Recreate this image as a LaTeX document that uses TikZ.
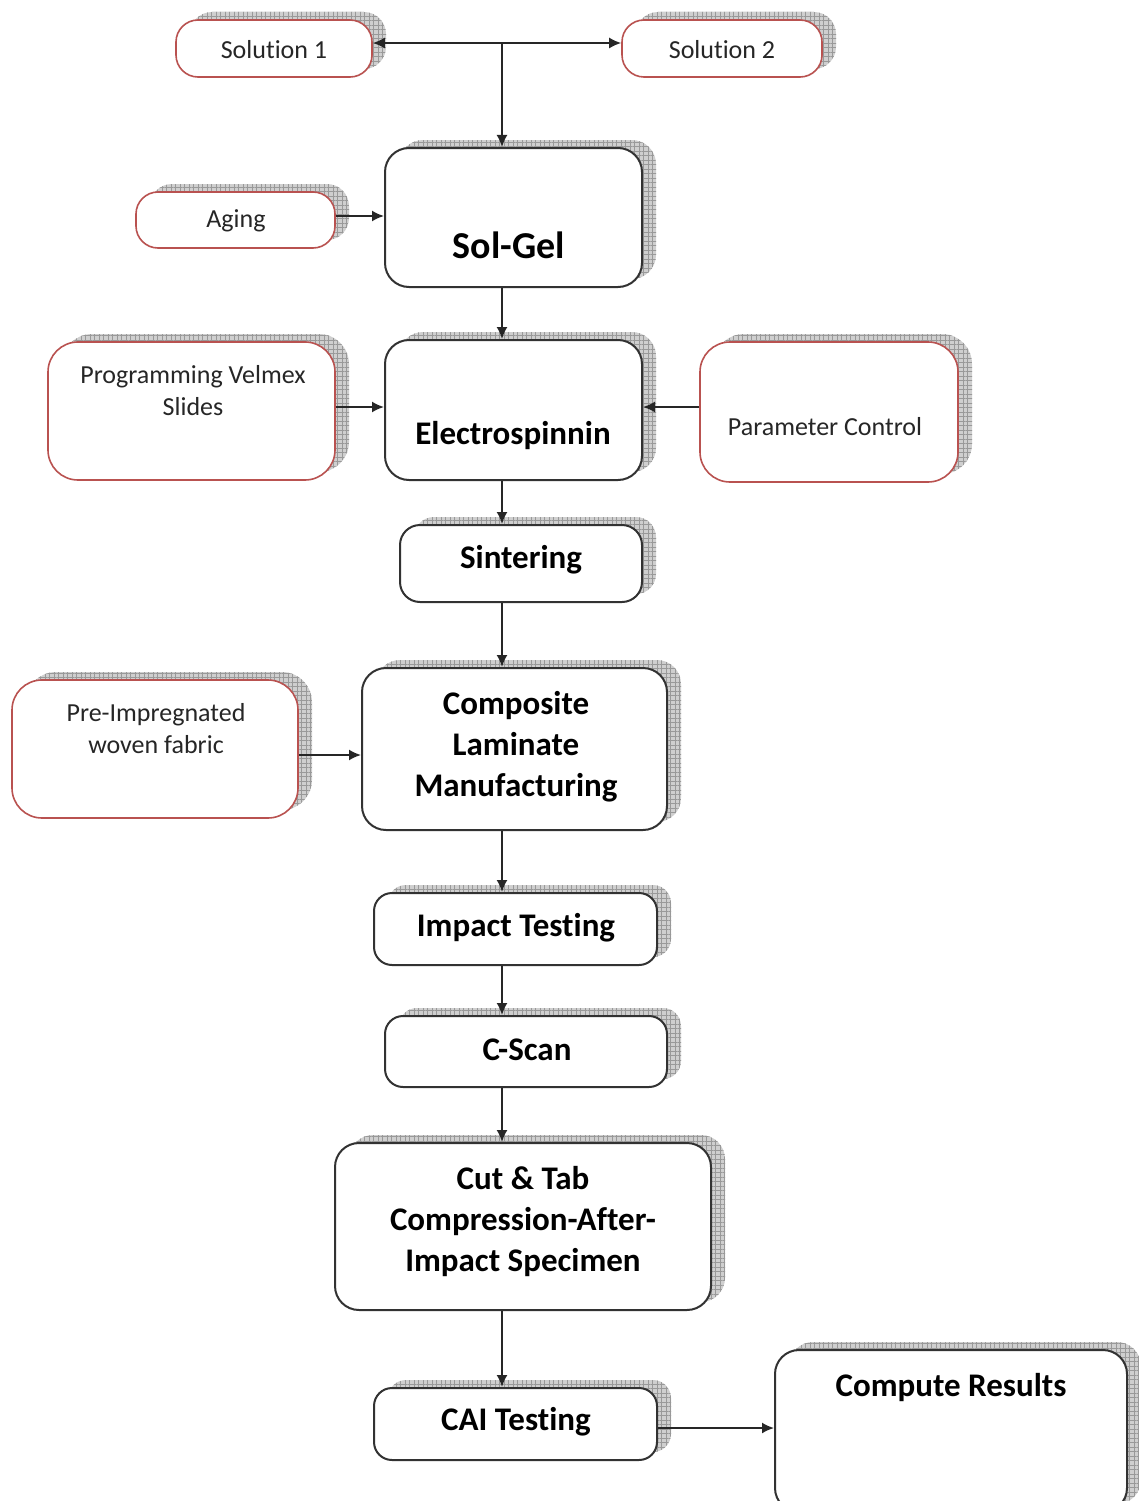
\documentclass[tikz,border=0pt]{standalone}
\usepackage{fontspec}
\setmainfont{Carlito}[Ligatures={NoCommon}]
\usetikzlibrary{arrows.meta,shadows,patterns.meta}

\definecolor{inborder}{RGB}{185,82,80}
\definecolor{mainborder}{RGB}{50,50,50}

\tikzset{
  shadowed/.style={
    general shadow={shadow xshift=14pt,shadow yshift=8pt,fill=gray!38},
    general shadow={shadow xshift=14pt,shadow yshift=8pt,
      pattern={Lines[distance=4.5pt,angle=0,line width=0.7pt]},pattern color=gray!80},
    general shadow={shadow xshift=14pt,shadow yshift=8pt,
      pattern={Lines[distance=4.5pt,angle=90,line width=0.7pt]},pattern color=gray!80}},
  mainbox/.style={draw=mainborder, line width=2pt, fill=white, rounded corners=24pt, shadowed, inner sep=0pt},
  inbox/.style={draw=inborder, line width=1.6pt, fill=white, rounded corners=22pt, shadowed, inner sep=0pt},
  regtxt/.style={font=\fontsize{26}{32}\selectfont, text=black!85, align=center, inner sep=0pt},
  boldtxt/.style={font=\fontsize{33}{41}\selectfont\bfseries, align=center, inner sep=0pt},
  tip/.style={Latex[length=12pt,width=11pt]},
  arr/.style={draw=black!85, line width=1.8pt, -{Latex[length=12pt,width=11pt]}},
  dblarr/.style={draw=black!85, line width=1.8pt, {Latex[length=12pt,width=11pt]}-{Latex[length=12pt,width=11pt]}},
}

\begin{document}
\begin{tikzpicture}[x=1pt,y=-1pt]
\useasboundingbox (0,0) rectangle (1139,1501);

% boxes
\node[inbox, minimum width=196, minimum height=57] (sol1) at (274,48.5) {};
\node[inbox, minimum width=200, minimum height=57] (sol2) at (722,48.5) {};
\node[mainbox, minimum width=257, minimum height=139] (solgel) at (513.5,217.5) {};
\node[inbox, minimum width=199, minimum height=56] (aging) at (235.5,220) {};
\node[mainbox, minimum width=257, minimum height=140] (electro) at (513.5,410) {};
\node[inbox, minimum width=287, minimum height=138, rounded corners=30pt] (prog) at (191.5,411) {};
\node[inbox, minimum width=258, minimum height=140, rounded corners=30pt] (param) at (829,412) {};
\node[mainbox, minimum width=242, minimum height=77, rounded corners=20pt] (sinter) at (521,563.5) {};
\node[mainbox, minimum width=305, minimum height=162] (compos) at (514.5,749) {};
\node[inbox, minimum width=286, minimum height=138, rounded corners=30pt] (preimp) at (155,749) {};
\node[mainbox, minimum width=283, minimum height=72, rounded corners=18pt] (impact) at (515.5,929) {};
\node[mainbox, minimum width=282, minimum height=71, rounded corners=18pt] (cscan) at (526,1051.5) {};
\node[mainbox, minimum width=376, minimum height=167] (cut) at (523,1226.5) {};
\node[mainbox, minimum width=283, minimum height=72, rounded corners=18pt] (cai) at (515.5,1424) {};
\node[mainbox, minimum width=352, minimum height=162] (compute) at (951,1431) {};

% texts
\node[regtxt] (tsol1) at (274,50) {Solution 1};
\node[regtxt] (tsol2) at (722,50) {Solution 2};
\node[regtxt] (taging) at (236,221) {Aging};
\node[boldtxt, font=\fontsize{38}{44}\selectfont\bfseries] (tsolgel) at (509,245) {Sol-Gel};
\node[boldtxt] (telectro) at (513,436) {Electrospinnin};
\node[regtxt] (tprog) at (193,391) {Programming Velmex\\Slides};
\node[regtxt] (tparam) at (825,427) {Parameter Control};
\node[boldtxt] (tsinter) at (521,560) {Sintering};
\node[boldtxt] (tcompos) at (516,747) {Composite\\Laminate\\Manufacturing};
\node[regtxt] (tpreimp) at (156,729) {Pre-Impregnated\\woven fabric};
\node[boldtxt] (timpact) at (516,928) {Impact Testing};
\node[boldtxt] (tcscan) at (527,1050) {C-Scan};
\node[boldtxt] (tcut) at (523,1222) {Cut \& Tab\\Compression-After-\\Impact Specimen};
\node[boldtxt] (tcai) at (516,1422) {CAI Testing};
\node[boldtxt] (tcompute) at (951,1387) {Compute Results};

% connectors
\coordinate (spine) at (502,43);
\draw[dblarr] (sol1.east |- spine) -- (sol2.west |- spine);
\draw[arr] (spine) -- (solgel.north -| spine);
\draw[arr] (aging.east |- 0,216) -- (solgel.west |- 0,216);
\draw[arr] (solgel.south -| spine) -- (electro.north -| spine);
\draw[arr] (prog.east |- 0,407) -- (electro.west |- 0,407);
\draw[arr] (param.west |- 0,407) -- (electro.east |- 0,407);
\draw[arr] (electro.south -| spine) -- (sinter.north -| spine);
\draw[arr] (sinter.south -| spine) -- (compos.north -| spine);
\draw[arr] (preimp.east |- 0,755) -- (compos.west |- 0,755);
\draw[arr] (compos.south -| spine) -- (impact.north -| spine);
\draw[arr] (impact.south -| spine) -- (cscan.north -| spine);
\draw[arr] (cscan.south -| spine) -- (cut.north -| spine);
\draw[arr] (cut.south -| spine) -- (cai.north -| spine);
\draw[arr] (cai.east |- 0,1428) -- (compute.west |- 0,1428);
\end{tikzpicture}
\end{document}
